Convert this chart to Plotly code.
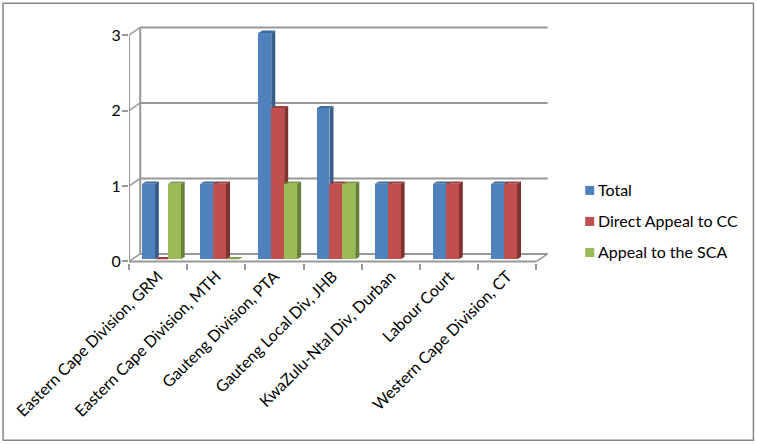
import plotly.graph_objects as go

categories = ["Eastern Cape Division, GRM", "Eastern Cape Division, MTH", "Gauteng Division, PTA",
              "Gauteng Local Div, JHB", "KwaZulu-Ntal Div, Durban", "Labour Court", "Western Cape Division, CT"]
total = [1, 1, 3, 2, 1, 1, 1]
direct = [0, 1, 2, 1, 1, 1, 1]
sca = [1, 0, 1, 1, None, None, None]
series_names = ["Total", "Direct Appeal to CC", "Appeal to the SCA"]
y_ticks = [0, 1, 2, 3]

W, H = 757, 444
FONT = "Lato"
CAT_PX, UNIT_PX = 58.14, 75.4
X_LEFT, Y_ZERO = 129.3, 261.5
x_range = [-0.5, 6.75]
y_range = [-0.02, 3.2]

front = ["#4F81BD", "#C0504D", "#9BBB59"]
side = ["#385D8A", "#7F3230", "#687F3A"]
top = ["#3F6A9C", "#9E3F3C", "#7F9C47"]
GRID = "#989898"

bar_w = 12.9 / CAT_PX
group_shift = 3.2 / CAT_PX
base = 2.2 / UNIT_PX
dep_x, dep_y = 4.0 / CAT_PX, 2.4 / UNIT_PX
wall_x, wall_y = 11.2 / CAT_PX, 7.6 / UNIT_PX

fig = go.Figure()
shapes = []


def poly(pts, color):
    path = "M" + " L".join(f"{x:.4f},{y:.4f}" for x, y in pts) + " Z"
    return dict(type="path", path=path, xref="x", yref="y", fillcolor=color,
                line=dict(width=0), layer="below")


def seg(x0, y0, x1, y1, w=2):
    return dict(type="line", x0=x0, y0=y0, x1=x1, y1=y1, xref="x", yref="y",
                line=dict(color=GRID, width=w), layer="below")


# walls and floor
left, right = -0.5, 6.5
for v in y_ticks:
    shapes.append(seg(left + wall_x, v + wall_y, right + wall_x, v + wall_y))
    shapes.append(seg(left, v, left + wall_x, v + wall_y, 1.5))
shapes.append(seg(left, 0, left, 3))
shapes.append(seg(left + wall_x, wall_y, left + wall_x, 3 + wall_y))
shapes.append(seg(left, 0, right, 0))
shapes.append(seg(right, 0, right + wall_x, wall_y, 1.5))

for s, (name, values) in enumerate(zip(series_names, [total, direct, sca])):
    off = group_shift + (s - 1.5) * bar_w
    fig.add_trace(go.Bar(x=categories, y=values, base=base, name=name, width=bar_w, offset=off,
                         marker=dict(color=front[s], line=dict(width=0)), showlegend=False))
    for i, v in enumerate(values):
        if v is None:
            continue
        x0, x1, y1 = i + off, i + off + bar_w, base + v
        if v > 0:
            shapes.append(poly([(x1, base), (x1 + dep_x, base + dep_y), (x1 + dep_x, y1 + dep_y), (x1, y1)], side[s]))
        shapes.append(poly([(x0, y1), (x0 + dep_x, y1 + dep_y), (x1 + dep_x, y1 + dep_y), (x1, y1)], top[s]))

plot_w, plot_h = CAT_PX * 7.25, UNIT_PX * 3.22
top_px = Y_ZERO + 0.02 * UNIT_PX - plot_h
fx = lambda px: (px - X_LEFT) / plot_w
fy = lambda py: 1 - (py - top_px) / plot_h

# outer border
shapes.append(dict(type="rect", xref="paper", yref="paper", x0=fx(3.5), x1=fx(753), y0=fy(440), y1=fy(3.5),
                   line=dict(color="#868686", width=1.5), layer="below"))

# legend drawn at the reference's tight swatch spacing
annotations = []
for s, (name, yc) in enumerate(zip(series_names, [190.5, 221.5, 252.5])):
    shapes.append(dict(type="rect", xref="paper", yref="paper", x0=fx(585), x1=fx(594), y0=fy(yc + 4.5), y1=fy(yc - 4.5),
                       fillcolor=front[s], line=dict(width=0)))
    annotations.append(dict(xref="paper", yref="paper", x=fx(596), y=fy(yc - 0.8), text=name, showarrow=False,
                            xanchor="left", yanchor="middle", align="left",
                            font=dict(family=FONT, size=16, color="#000000")))

fig.update_layout(
    width=W, height=H, autosize=False, showlegend=False, paper_bgcolor="white", plot_bgcolor="rgba(0,0,0,0)",
    barmode="overlay", bargap=0,
    margin=dict(l=X_LEFT, t=top_px, r=W - X_LEFT - plot_w, b=H - top_px - plot_h, pad=0, autoexpand=False),
    shapes=shapes, annotations=annotations,
    font=dict(family=FONT, size=16, color="#000000"),
    xaxis=dict(type="category", categoryorder="array", categoryarray=categories, range=x_range, tickson="boundaries",
               tickangle=-45, ticks="outside", ticklen=6, tickcolor=GRID, tickwidth=1.5, showgrid=False, showline=False,
               zeroline=False, tickfont=dict(family=FONT, size=16)),
    yaxis=dict(range=y_range, tickvals=y_ticks, ticks="outside", ticklen=6, tickcolor=GRID, tickwidth=1.5, showgrid=False,
               showline=False, zeroline=False, ticklabelstandoff=-2, tickfont=dict(family=FONT, size=16)),
)
fig.write_html("out.html", config=dict(displayModeBar=False),
               post_script="document.body.style.margin='0';document.documentElement.style.overflow='hidden';")
